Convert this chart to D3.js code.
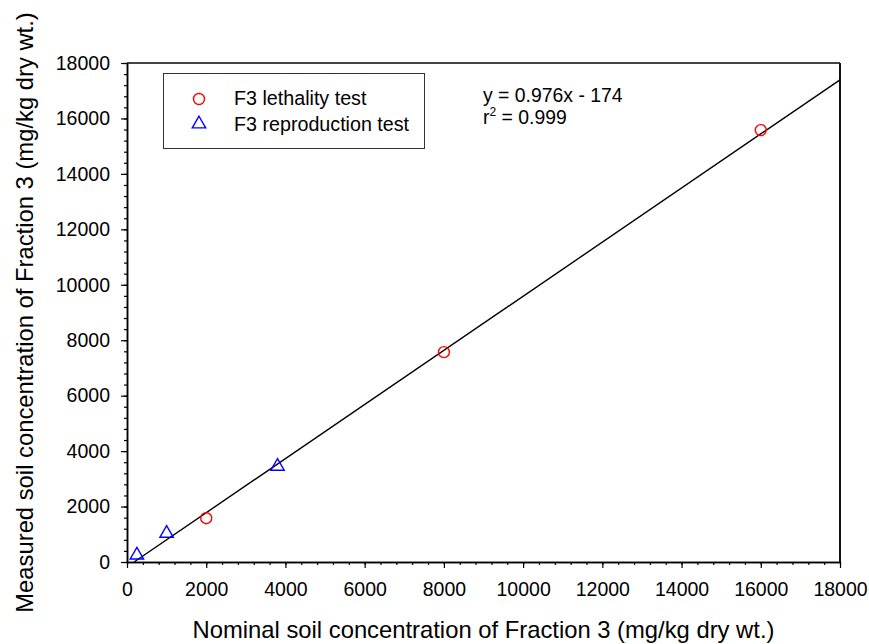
<!DOCTYPE html>
<html>
<head>
<meta charset="utf-8">
<script src="https://cdn.jsdelivr.net/npm/d3@7/dist/d3.min.js"></script>
<style>
  html, body { margin: 0; padding: 0; background: #fff; }
  svg text { font-family: "Liberation Sans", Arial, sans-serif; fill: #000; }
</style>
</head>
<body>
<svg id="chart" width="869" height="644"></svg>
<script>
// Nominal vs measured soil concentration of Fraction 3 (mg/kg dry wt.)
const lethalityNominal = [2000, 8000, 16000];
const lethalityMeasured = [1580, 7570, 15580];
const reproductionNominal = [250, 1000, 3800];
const reproductionMeasured = [250, 1030, 3450];

// Regression line: y = slope * x + intercept
const fitSlope = 0.976;
const fitIntercept = -174;
const fitLabel = "y = 0.976x - 174";
const r2Value = "0.999";

const majorTicks = [0, 2000, 4000, 6000, 8000, 10000, 12000, 14000, 16000, 18000];
const minorTicks = d3.range(0, 18001, 400);

const legendLabels = ["F3 lethality test", "F3 reproduction test"];
const xTitle = "Nominal soil concentration of Fraction 3 (mg/kg dry wt.)";
const yTitle = "Measured soil concentration of Fraction 3 (mg/kg dry wt.)";

const svg = d3.select("#chart");
const plotLeft = 127, plotRight = 840, plotTop = 63, plotBottom = 562;

const x = d3.scaleLinear().domain([0, 18000]).range([plotLeft, plotRight]);
const y = d3.scaleLinear().domain([0, 18000]).range([plotBottom, plotTop]);

// frame (top and right)
svg.append("line").attr("x1", plotLeft).attr("x2", plotRight).attr("y1", plotTop).attr("y2", plotTop)
  .attr("stroke", "#444").attr("stroke-width", 2);
svg.append("line").attr("x1", plotRight).attr("x2", plotRight).attr("y1", plotTop).attr("y2", plotBottom)
  .attr("stroke", "#111").attr("stroke-width", 2);

// axes: major ticks with labels, minor ticks without
function styleAxis(g) {
  g.selectAll("path").attr("stroke", "#000").attr("stroke-width", 1.5);
  g.selectAll("line").attr("stroke", "#000").attr("stroke-width", 1.2);
  g.selectAll("text").style("font-size", "19.5px").attr("fill", "#000");
}

const xMinor = svg.append("g").attr("transform", `translate(0,${plotBottom})`)
  .call(d3.axisBottom(x).tickValues(minorTicks).tickSize(3).tickSizeOuter(0).tickFormat(""));
const xMajor = svg.append("g").attr("transform", `translate(0,${plotBottom})`)
  .call(d3.axisBottom(x).tickValues(majorTicks).tickSize(6).tickSizeOuter(0).tickPadding(14).tickFormat(d3.format("d")));
const yMinor = svg.append("g").attr("transform", `translate(${plotLeft},0)`)
  .call(d3.axisLeft(y).tickValues(minorTicks).tickSize(3).tickSizeOuter(0).tickFormat(""));
const yMajor = svg.append("g").attr("transform", `translate(${plotLeft},0)`)
  .call(d3.axisLeft(y).tickValues(majorTicks).tickSize(6).tickSizeOuter(0).tickPadding(11).tickFormat(d3.format("d")));
[xMinor, xMajor, yMinor, yMajor].forEach(styleAxis);

// regression line from the x-intercept to the right edge
const xStart = -fitIntercept / fitSlope;
svg.append("line")
  .attr("x1", x(xStart)).attr("y1", y(0))
  .attr("x2", x(18000)).attr("y2", y(fitSlope * 18000 + fitIntercept))
  .attr("stroke", "#000").attr("stroke-width", 1.4);

// markers
const triPath = d3.symbol().type(d3.symbolTriangle).size(78);
function circleMark(sel, cx, cy) {
  sel.append("circle").attr("cx", cx).attr("cy", cy).attr("r", 5.5)
    .attr("fill", "none").attr("stroke", "#ff0000").attr("stroke-width", 1.4);
}
function triMark(sel, cx, cy) {
  sel.append("path").attr("d", triPath).attr("transform", `translate(${cx},${cy})`)
    .attr("fill", "none").attr("stroke", "#0000ff").attr("stroke-width", 1.4);
}
lethalityNominal.forEach((v, i) => circleMark(svg, x(v), y(lethalityMeasured[i])));
reproductionNominal.forEach((v, i) => triMark(svg, x(v), y(reproductionMeasured[i])));

// legend
svg.append("rect").attr("x", 163.5).attr("y", 73.5).attr("width", 261).attr("height", 75)
  .attr("fill", "#fff").attr("stroke", "#333").attr("stroke-width", 1);
circleMark(svg, 199, 99);
triMark(svg, 199, 124);
svg.append("text").attr("x", 234).attr("y", 105).style("font-size", "19.7px").text(legendLabels[0]);
svg.append("text").attr("x", 234).attr("y", 131).style("font-size", "19.7px").text(legendLabels[1]);

// regression annotation
svg.append("text").attr("x", 483).attr("y", 102).style("font-size", "19.4px").text(fitLabel);
const r2 = svg.append("text").attr("x", 483).attr("y", 124).style("font-size", "19.4px");
r2.append("tspan").text("r");
r2.append("tspan").attr("dy", -8).style("font-size", "12px").text("2");
r2.append("tspan").attr("dy", 8).text(" = " + r2Value);

// axis titles
svg.append("text").attr("x", (plotLeft + plotRight) / 2).attr("y", 638)
  .attr("text-anchor", "middle").style("font-size", "23.8px").text(xTitle);
svg.append("text").attr("transform", `translate(33,${(plotTop + plotBottom) / 2}) rotate(-90)`)
  .attr("text-anchor", "middle").style("font-size", "23.8px").text(yTitle);
</script>
</body>
</html>
